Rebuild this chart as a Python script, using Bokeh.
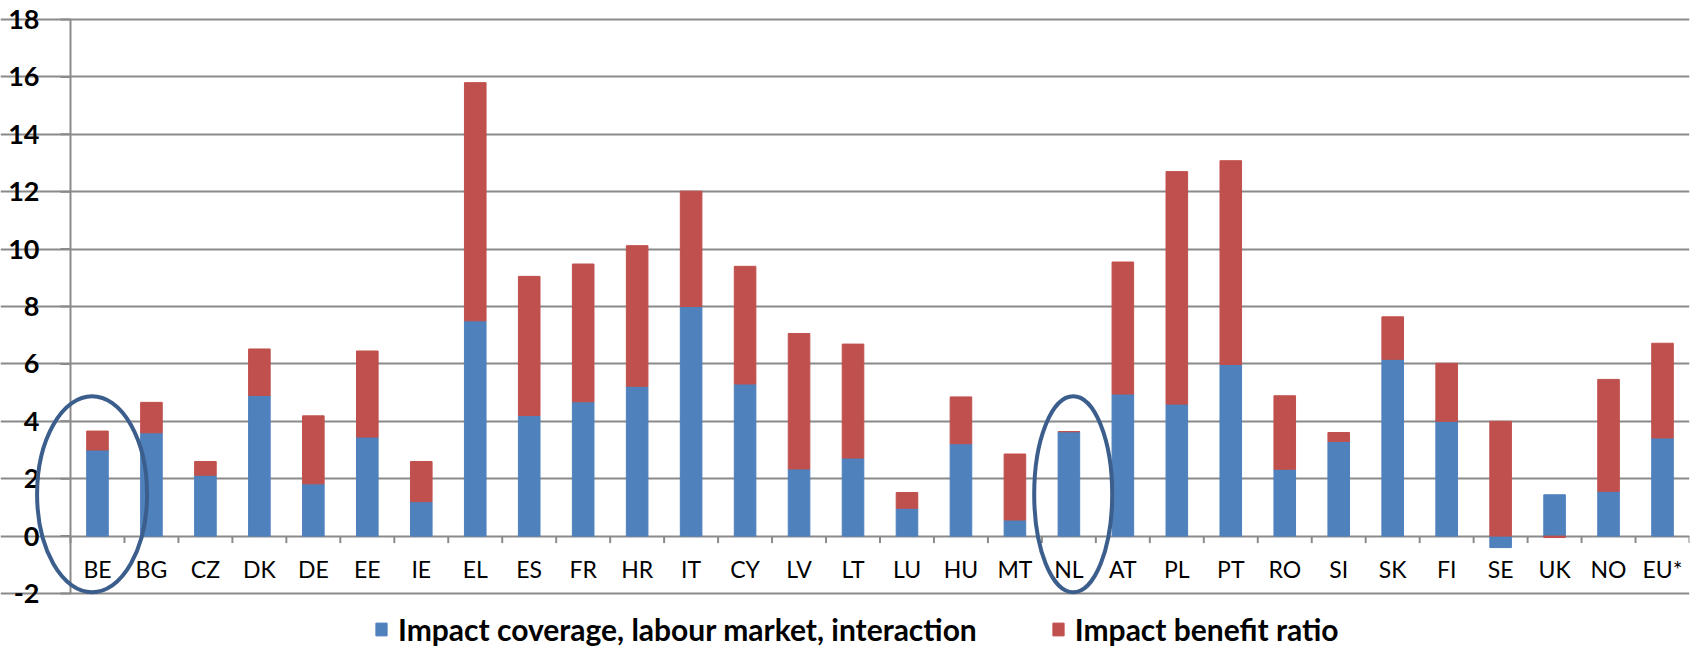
import math
import pandas as pd
from bokeh.plotting import figure
from bokeh.models import ColumnDataSource, Range1d, FixedTicker, Legend, LegendItem
from bokeh.core.properties import value
from bokeh.embed import file_html
from bokeh.resources import INLINE

categories = ["BE", "BG", "CZ", "DK", "DE", "EE", "IE", "EL", "ES", "FR",
              "HR", "IT", "CY", "LV", "LT", "LU", "HU", "MT", "NL", "AT",
              "PL", "PT", "RO", "SI", "SK", "FI", "SE", "UK", "NO", "EU*"]
coverage = [3.0, 3.6, 2.12, 4.9, 1.82, 3.45, 1.2, 7.5, 4.2, 4.68,
            5.22, 8.0, 5.3, 2.34, 2.72, 0.97, 3.22, 0.56, 3.64, 4.95,
            4.6, 5.98, 2.33, 3.3, 6.16, 4.0, -0.4, 1.44, 1.56, 3.42]
benefit = [0.66, 1.06, 0.48, 1.62, 2.37, 3.0, 1.4, 8.3, 4.85, 4.8,
           4.9, 4.02, 4.1, 4.72, 3.97, 0.55, 1.63, 2.3, 0.0, 4.6,
           8.1, 7.1, 2.56, 0.31, 1.48, 2.02, 4.0, -0.05, 3.9, 3.3]
highlighted = ["BE", "NL"]
y_ticks = [-2, 0, 2, 4, 6, 8, 10, 12, 14, 16, 18]
y_tick_labels = [str(t) for t in y_ticks]

BLUE = "#4F81BD"
RED = "#C0504D"
GRID = "#8A8A8A"
N = len(categories)

df = pd.DataFrame({"cat": categories, "cov": coverage, "ben": benefit})
df["x"] = df.index + 0.5
df["b_bot"] = df["cov"].clip(upper=0)
df["b_top"] = df["cov"].clip(lower=0)
pos_base = df["b_top"]
neg_base = df["b_bot"]
df["r_bot"] = pos_base.where(df["ben"] >= 0, neg_base + df["ben"])
df["r_top"] = (pos_base + df["ben"]).where(df["ben"] >= 0, neg_base)
df["zero"] = 0.0
src = ColumnDataSource(df)

xb_src = ColumnDataSource(dict(x=list(range(N + 1)), y=[0.0] * (N + 1)))
yt_src = ColumnDataSource(dict(x=[0.0] * len(y_ticks), y=y_ticks, t=y_tick_labels))

# frame covers whole canvas; value axis drawn at x = 0 inside it
p = figure(width=1692, height=662, x_range=Range1d(-1.297, N),
           y_range=Range1d(-4.404, 18.662), output_backend="svg",
           toolbar_location=None, min_border_left=0, min_border_right=3,
           min_border_top=0, min_border_bottom=0,
           x_axis_location=None, y_axis_location=None)
p.outline_line_color = None
p.background_fill_color = "white"
p.border_fill_color = "white"

p.xgrid.visible = False
p.ygrid.ticker = FixedTicker(ticks=y_ticks)
p.ygrid.bounds = (0, N)
p.ygrid.grid_line_color = GRID
p.ygrid.grid_line_width = 2

# value axis line, ticks and labels
p.segment(x0=[0], y0=[y_ticks[0]], x1=[0], y1=[y_ticks[-1]],
          line_color=GRID, line_width=2)
p.ray(x="x", y="y", length=10, length_units="screen", angle=math.pi,
      source=yt_src, line_color=GRID, line_width=2)
p.text(x="x", y="y", text="t", source=yt_src, text_align="right",
       text_baseline="middle", x_offset=-31, text_font=value("Lato"),
       text_font_style="bold", text_font_size="27px", text_color="black")

# category boundary ticks on the zero line
p.ray(x="x", y="y", length=7, length_units="screen", angle=-math.pi / 2,
      source=xb_src, line_color=GRID, line_width=2)

# category labels under the zero line
p.text(x="x", y="zero", text="cat", source=src, text_align="center",
       text_baseline="top", y_offset=19, text_font=value("Lato"),
       text_font_size="23px", text_color="black")

r_blue = p.vbar(x="x", bottom="b_bot", top="b_top", width=0.4, source=src,
                fill_color=BLUE, line_color=BLUE)
r_red = p.vbar(x="x", bottom="r_bot", top="r_top", width=0.4, source=src,
               fill_color=RED, line_color=RED)

# highlight ellipses around selected countries
idx = [categories.index(c) for c in highlighted]
ell = ColumnDataSource(dict(
    x=[idx[0] + 0.5 - 0.1, idx[1] + 0.5 + 0.08],
    y=[1.46, 1.46],
    w=[110, 78],
    h=[196, 196],
))
p.ellipse(x="x", y="y", width="w", height="h", width_units="screen",
          height_units="screen", source=ell, fill_color=None,
          line_color="#3B5E8C", line_width=4)

legend = Legend(items=[
    LegendItem(label="Impact coverage, labour market, interaction", renderers=[r_blue]),
    LegendItem(label="Impact benefit ratio", renderers=[r_red]),
], orientation="horizontal", location=(374, 15), glyph_width=14, glyph_height=16,
    label_standoff=10, spacing=74, padding=0, margin=0,
    label_text_font="Lato", label_text_font_style="bold",
    label_text_font_size="30px", label_text_color="black",
    border_line_color=None, background_fill_alpha=0)
p.add_layout(legend, "center")

open("out.html", "w").write(file_html(p, INLINE))
